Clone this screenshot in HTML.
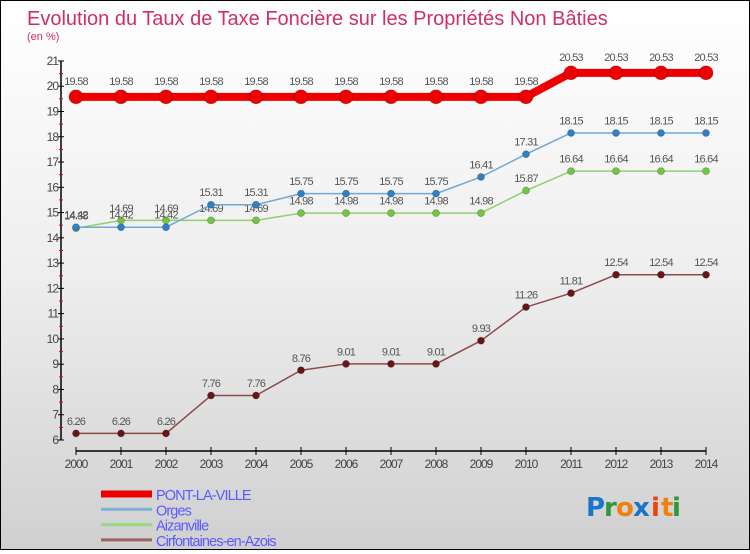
<!DOCTYPE html>
<html><head><meta charset="utf-8">
<style>
html,body{margin:0;padding:0;}
body{width:750px;height:550px;overflow:hidden;font-family:"Liberation Sans",sans-serif;}
#wrap{position:relative;width:748px;height:548px;border:1px solid #000;background:linear-gradient(#ffffff 0%,#eeeeee 50%,#d0d0d0 100%);}
</style></head>
<body>
<div id="wrap">
<svg id="chart" width="748" height="548" viewBox="0 0 748 548" xmlns="http://www.w3.org/2000/svg">
<text x="26" y="24" font-size="20" fill="#d03060" font-family="Liberation Sans, sans-serif">Evolution du Taux de Taxe Foncière sur les Propriétés Non Bâties</text>
<text x="26" y="39" font-size="11" fill="#d03060" font-family="Liberation Sans, sans-serif">(en %)</text>
<g id="axes"></g>
<g id="series"></g>
<g id="legend"></g>
<g font-family="DejaVu Sans, sans-serif" font-size="26" font-weight="bold">
<text x="585" y="515" fill="#1a74c8">P</text><text x="603" y="515" fill="#2a9a3a">r</text><text x="615" y="515" fill="#f08010">o</text><text x="632" y="515" fill="#1a74c8">x</text><text x="650" y="515" fill="#f04010">i</text><text x="660" y="515" fill="#f08010">t</text><text x="671" y="515" fill="#2a9a3a">i</text>
</g>
</svg>
</div>
<script>
const years = [2000,2001,2002,2003,2004,2005,2006,2007,2008,2009,2010,2011,2012,2013,2014];
const yTicks = [6,7,8,9,10,11,12,13,14,15,16,17,18,19,20,21];
const pontLaVille = [19.58,19.58,19.58,19.58,19.58,19.58,19.58,19.58,19.58,19.58,19.58,20.53,20.53,20.53,20.53];
const orges = [14.42,14.42,14.42,15.31,15.31,15.75,15.75,15.75,15.75,16.41,17.31,18.15,18.15,18.15,18.15];
const aizanville = [14.38,14.69,14.69,14.69,14.69,14.98,14.98,14.98,14.98,14.98,15.87,16.64,16.64,16.64,16.64];
const cirfontaines = [6.26,6.26,6.26,7.76,7.76,8.76,9.01,9.01,9.01,9.93,11.26,11.81,12.54,12.54,12.54];
const seriesNames = ["PONT-LA-VILLE","Orges","Aizanville","Cirfontaines-en-Azois"];

const NS="http://www.w3.org/2000/svg";
const X0=75, X1=705, Y6=439, PX=25.27;
function xs(i){return X0+(X1-X0)*i/(years.length-1);}
function ys(v){return Y6-(v-6)*PX;}
function mk(tag,attrs,parent){const e=document.createElementNS(NS,tag);for(const k in attrs)e.setAttribute(k,attrs[k]);parent.appendChild(e);return e;}

const axes=document.getElementById('axes');
const ya=mk('line',{x1:60,y1:ys(21),x2:60,y2:ys(6),stroke:'#000','stroke-width':1.5},axes);


yTicks.forEach(t=>{
  const tk=mk('line',{x1:57,x2:63,y1:ys(t),y2:ys(t),stroke:'#000','stroke-width':1},axes);
  
  
  const lb=mk('text',{x:57,y:ys(t)+4,'text-anchor':'end','font-size':12,fill:'#444','letter-spacing':'-1'},axes);
  lb.textContent=t;
  
  
  if(t<21){
    const mn=mk('line',{x1:58,x2:62,y1:ys(t+0.5),y2:ys(t+0.5),stroke:'#e00','stroke-width':1},axes);
    
    
  }
});
const xa=mk('line',{x1:X0,y1:450,x2:X1,y2:450,stroke:'#000','stroke-width':1.5},axes);


years.forEach((yr,i)=>{
  const tk=mk('line',{x1:xs(i),x2:xs(i),y1:446,y2:454,stroke:'#000','stroke-width':1},axes);
  
  
  const lb=mk('text',{x:xs(i),y:467,'text-anchor':'middle','font-size':12,fill:'#444','letter-spacing':'-1'},axes);
  lb.textContent=yr;
  
  
});

const ser=document.getElementById('series');
function drawSeries(vals,name,color,width,r,dot){
  const g=mk('g',{},ser);
  
  
  const pts=vals.map((v,i)=>xs(i)+','+ys(v)).join(' ');
  const pl=mk('polyline',{points:pts,fill:'none',stroke:color,'stroke-width':width,'stroke-linejoin':'round'},g);
  
  
  vals.forEach((v,i)=>{
    const c=mk('circle',{cx:xs(i),cy:ys(v),r:r,fill:dot,stroke:'rgba(0,0,0,0.25)','stroke-width':0.8},g);
    
    
    const t=mk('text',{x:xs(i),y:ys(v)-(r+5),'text-anchor':'middle','font-size':11,fill:'#555','letter-spacing':'-0.8'},g);
    t.textContent=v.toFixed(2);
    
    
  });
}
drawSeries(cirfontaines,'cirfontaines','#8a4a4a',1.5,3.5,'#6a1515');
drawSeries(aizanville,'aizanville','#90d070',1.5,3.5,'#70c840');
drawSeries(orges,'orges','#70a8d8',1.5,3.5,'#3080c8');
drawSeries(pontLaVille,'pont-la-ville','#ee0000',8,7,'#ee0000');

const lg=document.getElementById('legend');
const lcolors=['#ee0000','#80b0d8','#98d880','#986060'];
const lwid=[7,3,3,3];
seriesNames.forEach((n,i)=>{
  const y=493+i*15.3;
  const l=mk('line',{x1:100,x2:151,y1:y,y2:y,stroke:lcolors[i],'stroke-width':lwid[i]},lg);
  
  
  const t=mk('text',{x:155,y:y+6,'font-size':14.5,fill:'#5a5aff','letter-spacing':'-0.9'},lg);
  t.textContent=n;
  
  
});
</script>
</body></html>
